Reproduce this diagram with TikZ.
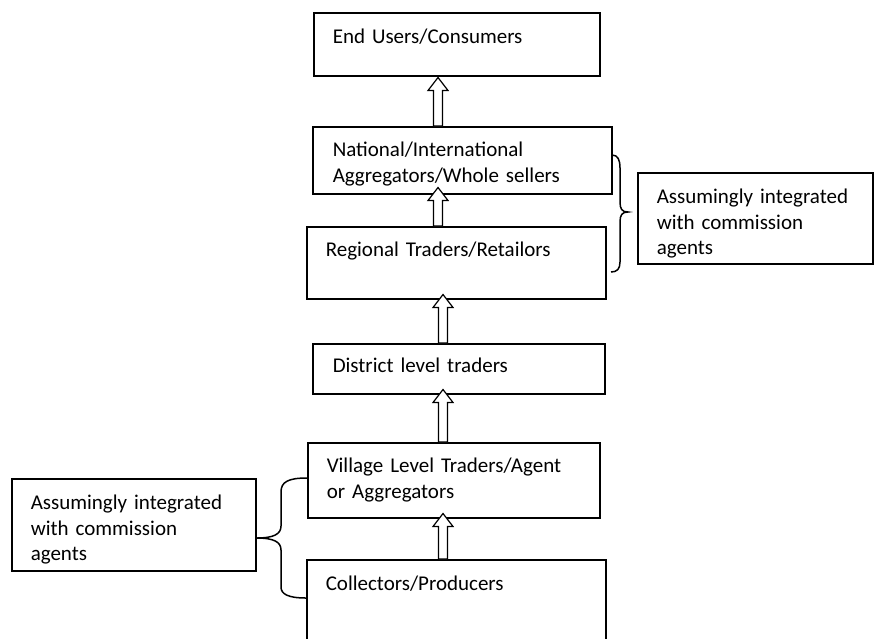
\documentclass[tikz,border=0pt]{standalone}
\usepackage{fontspec}
\setmainfont{Carlito}
\usetikzlibrary{calc}

% hollow upward block arrow from #1 (start) to #2 (tip)
\newcommand{\hollowup}[2]{%
  \draw[uparrow] let \p1=(#1), \p2=(#2) in
    (\x1-4.5pt,\y1) -- (\x1-4.5pt,\y2-13pt) -- (\x1-10pt,\y2-13pt) -- (\x1,\y2)
    -- (\x1+10pt,\y2-13pt) -- (\x1+4.5pt,\y2-13pt) -- (\x1+4.5pt,\y1) -- cycle;}

\begin{document}
\begin{tikzpicture}[
  x=1pt, y=-1pt,
  stage/.style={
    draw, line width=1.5pt, anchor=north west, align=left,
    inner xsep=19pt, inner ysep=0pt, font=\fontsize{21}{25.5}\selectfont
  },
  uparrow/.style={fill=white, line width=1.2pt, line join=miter},
  curly/.style={line width=1.5pt},
]
\useasboundingbox (0,0) rectangle (874,638);

% Chain of traders, top to bottom
\node[stage, text width=248pt, text height=31pt, text depth=32pt] (users) at (313,12) {End Users/Consumers};
\node[stage, inner xsep=20pt, text width=259pt, text height=30pt, text depth=37pt] (nat) at (312,126) {National/International\\Aggregators/Whole sellers};
\node[stage, text width=261pt, text height=30pt, text depth=42pt] (reg) at (306,226) {Regional Traders/Retailors};
\node[stage, inner xsep=20pt, text width=252pt, text height=29pt, text depth=21pt] (dist) at (312,343) {District level traders};
\node[stage, text width=254pt, text height=30pt, text depth=45pt] (vill) at (307,442) {Village Level Traders/Agent\\or Aggregators};
\node[stage, text width=261pt, text height=31pt, text depth=70pt] (coll) at (306,559) {Collectors/Producers};

% Side notes
\node[stage, text width=197pt, text height=31pt, text depth=60pt] (rnote) at (637,172) {Assumingly integrated\\with commission\\agents};
\node[stage, text width=206pt, text height=31pt, text depth=61pt] (lnote) at (11,478) {Assumingly integrated\\with commission\\agents};

% Hollow arrows upwards
\hollowup{438,0 |- nat.north}{$(438,0 |- users.south)+(0,1)$}
\hollowup{438,0 |- reg.north}{$(438,0 |- nat.south)+(0,-7)$}
\hollowup{443,0 |- dist.north}{$(443,0 |- reg.south)+(0,-5)$}
\hollowup{443,0 |- vill.north}{$(443,0 |- dist.south)+(0,-5)$}
\hollowup{443,0 |- coll.north}{$(443,0 |- vill.south)+(0,-5)$}

% Braces
\coordinate (rtop) at (612,155);
\coordinate (rbot) at (611,272);
\coordinate (rtip) at (rnote.west |- 0,212);
\draw[curly] (rtop) .. controls (618,155) and (620,160) .. (620,168) -- (620,202)
  .. controls (620,209) and (622,212) .. ($(rtip)+(-9,0)$)
  .. controls (622,212) and (620,215) .. (620,222) -- (620,262)
  .. controls (620,269) and (617,272) .. (rbot);

\coordinate (ltop) at (vill.west |- 0,478);
\coordinate (lbot) at (coll.west |- 0,598);
\coordinate (ltip) at (lnote.east |- 0,538);
\draw[curly] (ltop) .. controls (288,478) and (281,482) .. (281,492) -- (281,526)
  .. controls (281,534) and (274,538) .. (ltip)
  .. controls (274,538) and (281,542) .. (281,550) -- (281,587)
  .. controls (281,594) and (288,598) .. (lbot);

\end{tikzpicture}
\end{document}
